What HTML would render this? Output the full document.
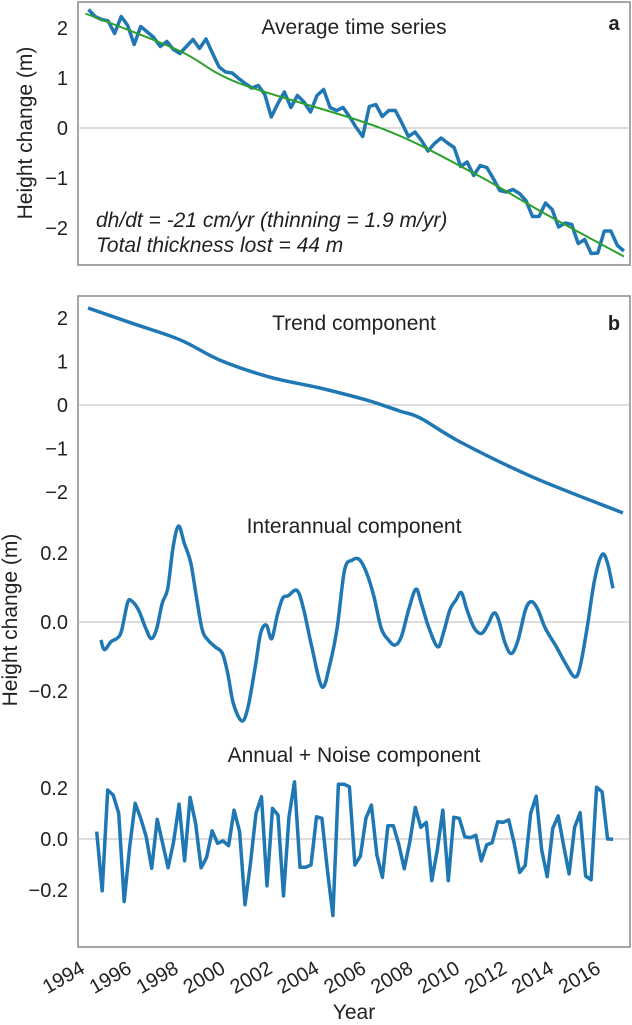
<!DOCTYPE html>
<html><head><meta charset="utf-8"><style>
html,body{margin:0;padding:0;background:#fff;}
svg text{font-family:"Liberation Sans",Arial,sans-serif;fill:#222;}
</style></head><body>
<svg id="chart" width="632" height="1020" viewBox="0 0 632 1020" xmlns="http://www.w3.org/2000/svg">
<g id="static"></g>
</svg>
<script>
// ---- data ----
const avgValues=[2.37,2.23,2.17,2.14,1.89,2.23,2.05,1.67,2.03,1.92,1.81,1.63,1.73,1.57,1.49,1.63,1.77,1.59,1.78,1.49,1.22,1.12,1.10,0.99,0.89,0.80,0.85,0.67,0.22,0.49,0.72,0.41,0.65,0.52,0.32,0.65,0.77,0.41,0.35,0.41,0.22,0.01,-0.17,0.43,0.47,0.23,0.35,0.35,0.10,-0.17,-0.08,-0.25,-0.46,-0.31,-0.20,-0.30,-0.39,-0.77,-0.68,-0.95,-0.75,-0.79,-1.01,-1.25,-1.28,-1.23,-1.31,-1.45,-1.77,-1.77,-1.50,-1.63,-1.98,-1.90,-1.93,-2.31,-2.23,-2.51,-2.50,-2.06,-2.06,-2.35,-2.46];
const avgSpan=[1994.15,2016.98];
const fitYears=[1994.02,1998.0,2000.6,2006.6,2010.6,2013.6,2016.98];
const fitValues=[2.29,1.55,0.89,0.0,-0.91,-1.71,-2.57];
const trendYears=[1994.13,1996.0,1998.05,1999.76,2001.89,2004.02,2006.03,2007.43,2008.3,2010.0,2013.1,2016.94];
const trendValues=[2.23,1.88,1.50,1.03,0.64,0.39,0.11,-0.14,-0.30,-0.85,-1.66,-2.48];
const interYears=[1994.68,1994.83,1995.11,1995.35,1995.55,1995.81,1995.97,1996.28,1996.59,1996.83,1997.06,1997.29,1997.53,1997.76,1997.99,1998.23,1998.51,1998.77,1999.00,1999.24,1999.55,1999.86,2000.09,2000.33,2000.69,2000.95,2001.26,2001.49,2001.73,2001.96,2002.20,2002.43,2002.66,2003.05,2003.33,2003.67,2004.11,2004.45,2004.76,2005.07,2005.39,2005.70,2006.01,2006.32,2006.63,2006.94,2007.22,2007.49,2007.80,2008.11,2008.34,2008.65,2009.04,2009.28,2009.56,2009.82,2010.05,2010.29,2010.60,2010.91,2011.17,2011.42,2011.61,2011.92,2012.19,2012.47,2012.78,2013.04,2013.32,2013.63,2014.10,2014.49,2014.88,2015.11,2015.42,2015.73,2016.05,2016.28,2016.51];
const interValues=[-0.052,-0.080,-0.057,-0.048,-0.028,0.054,0.062,0.035,-0.018,-0.048,-0.018,0.054,0.098,0.219,0.278,0.229,0.171,0.064,-0.023,-0.052,-0.072,-0.091,-0.150,-0.237,-0.287,-0.247,-0.130,-0.033,-0.009,-0.048,0.020,0.069,0.076,0.091,0.035,-0.072,-0.188,-0.120,-0.014,0.151,0.179,0.181,0.142,0.074,-0.018,-0.052,-0.067,-0.043,0.035,0.095,0.054,-0.014,-0.072,-0.033,0.035,0.064,0.085,0.035,-0.018,-0.033,-0.009,0.025,0.011,-0.062,-0.091,-0.052,0.035,0.059,0.035,-0.018,-0.072,-0.120,-0.159,-0.130,-0.014,0.122,0.195,0.171,0.098];
const annualValues=[0.029,-0.203,0.192,0.172,0.101,-0.245,-0.030,0.140,0.081,0.009,-0.115,0.077,-0.017,-0.113,-0.011,0.137,-0.085,0.163,0.061,-0.113,-0.072,0.032,-0.017,-0.008,-0.026,0.113,0.029,-0.258,-0.095,0.101,0.166,-0.184,0.120,0.094,-0.223,0.087,0.224,-0.111,-0.111,-0.102,0.087,0.081,-0.122,-0.300,0.215,0.215,0.205,-0.102,-0.067,0.081,0.133,-0.063,-0.150,0.052,0.052,-0.023,-0.117,-0.011,0.124,0.046,0.065,-0.163,-0.043,0.113,-0.163,0.085,0.081,0.009,0.005,0.015,-0.086,-0.023,-0.014,0.068,0.065,0.075,-0.017,-0.131,-0.104,0.101,0.168,-0.043,-0.148,0.041,0.090,-0.027,-0.137,0.046,0.103,-0.145,-0.160,0.203,0.185,0,-0.001];
const annualSpan=[1994.5,2016.52];
const xTickLabels=["1994","1996","1998","2000","2002","2004","2006","2008","2010","2012","2014","2016"];
const aTicks=[2,1,0,-1,-2];
const trendTicks=[2,1,0,-1,-2];
const interTicks=[0.2,0.0,-0.2];
const annualTicks=[0.2,0.0,-0.2];

// ---- scales ----
const X=y=>85+(y-1994)*23.45;
const Ya=v=>128-v*50;
const Yt=v=>405-v*43.5;
const Yi=v=>622-v*345;
const Yn=v=>839-v*255;
const NS="http://www.w3.org/2000/svg";
const svg=document.getElementById('chart');
function mk(tag,attrs,parent){const e=document.createElementNS(NS,tag);for(const k in attrs)e.setAttribute(k,attrs[k]);(parent||svg).appendChild(e);return e;}
function fmt(v,d){const s=Math.abs(v).toFixed(d);return (v<0?"\u2212":"")+s;}
function linePath(pts){return pts.map((p,i)=>(i?'L':'M')+p[0].toFixed(1)+','+p[1].toFixed(1)).join('');}
function smoothPath(pts){let d='M'+pts[0][0]+','+pts[0][1];for(let i=0;i<pts.length-1;i++){const p0=pts[Math.max(0,i-1)],p1=pts[i],p2=pts[i+1],p3=pts[Math.min(pts.length-1,i+2)];const c1=[p1[0]+(p2[0]-p0[0])/6,p1[1]+(p2[1]-p0[1])/6],c2=[p2[0]-(p3[0]-p1[0])/6,p2[1]-(p3[1]-p1[1])/6];d+='C'+c1[0].toFixed(1)+','+c1[1].toFixed(1)+' '+c2[0].toFixed(1)+','+c2[1].toFixed(1)+' '+p2[0].toFixed(1)+','+p2[1].toFixed(1);}return d;}
function uniformYears(n,span){const out=[];for(let i=0;i<n;i++)out.push(span[0]+(span[1]-span[0])*i/(n-1));return out;}
const TF=20, TT=21;

// ---- panel a ----
let e;
e=mk('rect',{x:78,y:2,width:552,height:263,fill:'none',stroke:'#888','stroke-width':1.5});


e=mk('line',{x1:78,x2:630,y1:Ya(0),y2:Ya(0),stroke:'#bbb','stroke-width':1});


aTicks.forEach(t=>{const tx=mk('text',{x:68,y:Ya(t)+7,'text-anchor':'end','font-size':TF});tx.textContent=fmt(t,0);

});
const avgYears=uniformYears(avgValues.length,avgSpan);
e=mk('path',{d:linePath(avgYears.map((y,i)=>[X(y),Ya(avgValues[i])])),fill:'none',stroke:'#1f77b4','stroke-width':3.5,'stroke-linejoin':'round'});


e=mk('path',{d:smoothPath(fitYears.map((y,i)=>[X(y),Ya(fitValues[i])])),fill:'none',stroke:'#2ca02c','stroke-width':2});


e=mk('text',{x:354,y:34,'text-anchor':'middle','font-size':TT});e.textContent='Average time series';


e=mk('text',{x:614,y:30,'text-anchor':'middle','font-size':20,'font-weight':'bold'});e.textContent='a';


e=mk('text',{x:96,y:227,'font-size':TT,'font-style':'italic'});e.textContent='dh/dt = -21 cm/yr (thinning = 1.9 m/yr)';


e=mk('text',{x:96,y:252,'font-size':TT,'font-style':'italic'});e.textContent='Total thickness lost = 44 m';


e=mk('text',{x:0,y:0,'text-anchor':'middle','font-size':TT,transform:'translate(32,133) rotate(-90)'});e.textContent='Height change (m)';



// ---- panel b ----
e=mk('rect',{x:78,y:296,width:552,height:651,fill:'none',stroke:'#888','stroke-width':1.5});


[[Yt(0),'trend-zero-line'],[Yi(0),'interannual-zero-line'],[Yn(0),'annual-zero-line']].forEach(z=>{const l=mk('line',{x1:78,x2:630,y1:z[0],y2:z[0],stroke:'#bbb','stroke-width':1});

});
trendTicks.forEach(t=>{const tx=mk('text',{x:68,y:Yt(t)+7,'text-anchor':'end','font-size':TF});tx.textContent=fmt(t,0);

});
interTicks.forEach(t=>{const tx=mk('text',{x:68,y:Yi(t)+7,'text-anchor':'end','font-size':TF});tx.textContent=fmt(t,1);

});
annualTicks.forEach(t=>{const tx=mk('text',{x:68,y:Yn(t)+7,'text-anchor':'end','font-size':TF});tx.textContent=fmt(t,1);

});
e=mk('path',{d:smoothPath(trendYears.map((y,i)=>[X(y),Yt(trendValues[i])])),fill:'none',stroke:'#1f77b4','stroke-width':3.5});


e=mk('path',{d:smoothPath(interYears.map((y,i)=>[X(y),Yi(interValues[i])])),fill:'none',stroke:'#1f77b4','stroke-width':3.5});


const annualYears=uniformYears(annualValues.length,annualSpan);
e=mk('path',{d:linePath(annualYears.map((y,i)=>[X(y),Yn(annualValues[i])])),fill:'none',stroke:'#1f77b4','stroke-width':3.5,'stroke-linejoin':'round'});


e=mk('text',{x:354,y:330,'text-anchor':'middle','font-size':TT});e.textContent='Trend component';


e=mk('text',{x:614,y:330,'text-anchor':'middle','font-size':20,'font-weight':'bold'});e.textContent='b';


e=mk('text',{x:354,y:533,'text-anchor':'middle','font-size':TT});e.textContent='Interannual component';


e=mk('text',{x:354,y:762,'text-anchor':'middle','font-size':TT});e.textContent='Annual + Noise component';


e=mk('text',{x:0,y:0,'text-anchor':'middle','font-size':TT,transform:'translate(17,620) rotate(-90)'});e.textContent='Height change (m)';


xTickLabels.forEach(lbl=>{const tx=X(+lbl);const t=mk('text',{x:0,y:0,'text-anchor':'end','font-size':TF,transform:'translate('+(tx+1)+',972) rotate(-30)'});t.textContent=lbl;

});
e=mk('text',{x:354,y:1019,'text-anchor':'middle','font-size':TT});e.textContent='Year';


</script>
</body></html>
